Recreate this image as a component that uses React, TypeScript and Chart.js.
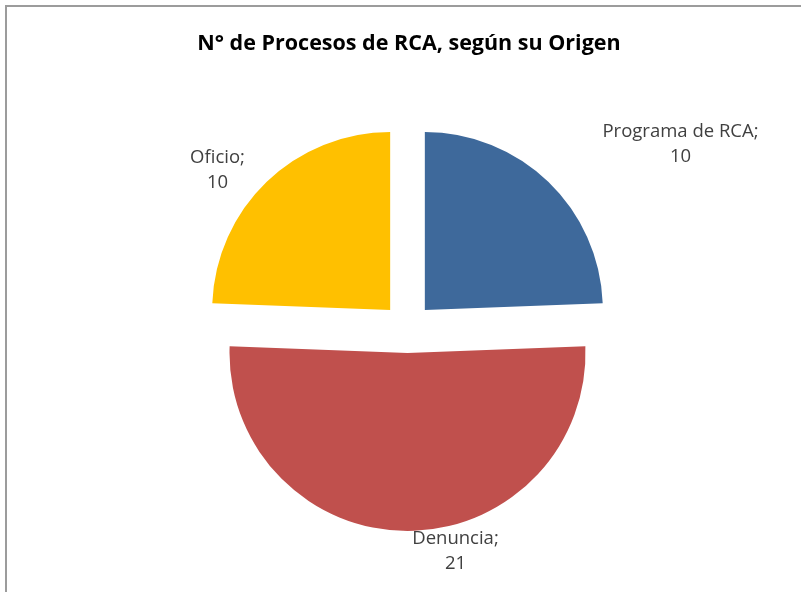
import React, { useEffect, useRef } from "react";
import { Chart, registerables } from "chart.js";

Chart.register(...registerables);

const TITLE = "N° de Procesos de RCA, según su Origen";
const categories = ["Programa de RCA", "Denuncia", "Oficio"];
const values = [10, 21, 10];
const colors = ["#3E699B", "#C0504D", "#FFC000"];
// explosion distance of every slice, in px
const EXPLODE = 25;
// label block centre relative to pie centre
const labelOffsets: [number, number][] = [
  [273, -184],
  [48, 223],
  [-190, -158],
];

const FONT = "'Open Sans', 'DejaVu Sans', sans-serif";

const decoPlugin = {
  id: "deco",
  beforeDraw(chart: any) {
    const { ctx, width, height } = chart;
    ctx.save();
    ctx.fillStyle = "#ffffff";
    ctx.fillRect(0, 0, width, height);
    ctx.strokeStyle = "#9c9c9c";
    ctx.lineWidth = 2;
    ctx.beginPath();
    ctx.moveTo(6, height + 2);
    ctx.lineTo(6, 6);
    ctx.lineTo(width + 2, 6);
    ctx.stroke();
    ctx.restore();
  },
  beforeDatasetsDraw(chart: any) {
    const { ctx } = chart;
    const meta = chart.getDatasetMeta(0);
    meta.data.forEach((arc: any) => {
      const mid = (arc.startAngle + arc.endAngle) / 2;
      ctx.save();
      ctx.translate(Math.cos(mid) * EXPLODE, Math.sin(mid) * EXPLODE);
      arc.draw(ctx);
      ctx.restore();
    });
    return false;
  },
  afterDraw(chart: any) {
    const { ctx } = chart;
    ctx.save();
    ctx.fillStyle = "#000000";
    ctx.font = `bold 21.5px ${FONT}`;
    ctx.textAlign = "center";
    ctx.textBaseline = "middle";
    ctx.fillText(TITLE, 409, 44);

    const meta = chart.getDatasetMeta(0);
    ctx.font = `18.5px ${FONT}`;
    ctx.fillStyle = "#404040";
    meta.data.forEach((arc: any, i: number) => {
      const [dx, dy] = labelOffsets[i];
      const cx = arc.x + dx;
      const cy = arc.y + dy;
      ctx.fillText(categories[i] + ";", cx, cy - 12.5);
      ctx.fillText(String(values[i]), cx, cy + 12.5);
    });
    ctx.restore();
  },
};

export default function App() {
  const ref = useRef<HTMLCanvasElement | null>(null);
  useEffect(() => {
    if (!ref.current) return;
    const chart = new Chart(ref.current, {
      type: "pie",
      data: {
        labels: categories,
        datasets: [
          {
            data: values,
            backgroundColor: colors,
            borderWidth: 0,
          },
        ],
      },
      options: {
        responsive: false,
        animation: false,
        layout: { padding: { left: 150, right: 136, top: 150, bottom: 86 } },
        plugins: {
          legend: { display: false },
          title: { display: false },
          tooltip: { enabled: false },
        },
        events: [],
      },
      plugins: [decoPlugin],
    });
    return () => chart.destroy();
  }, []);
  return (
    <div style={{ position: "absolute", left: 0, top: 0, width: 801, height: 592 }}>
      <canvas ref={ref} width={801} height={592} style={{ display: "block" }} />
    </div>
  );
}
